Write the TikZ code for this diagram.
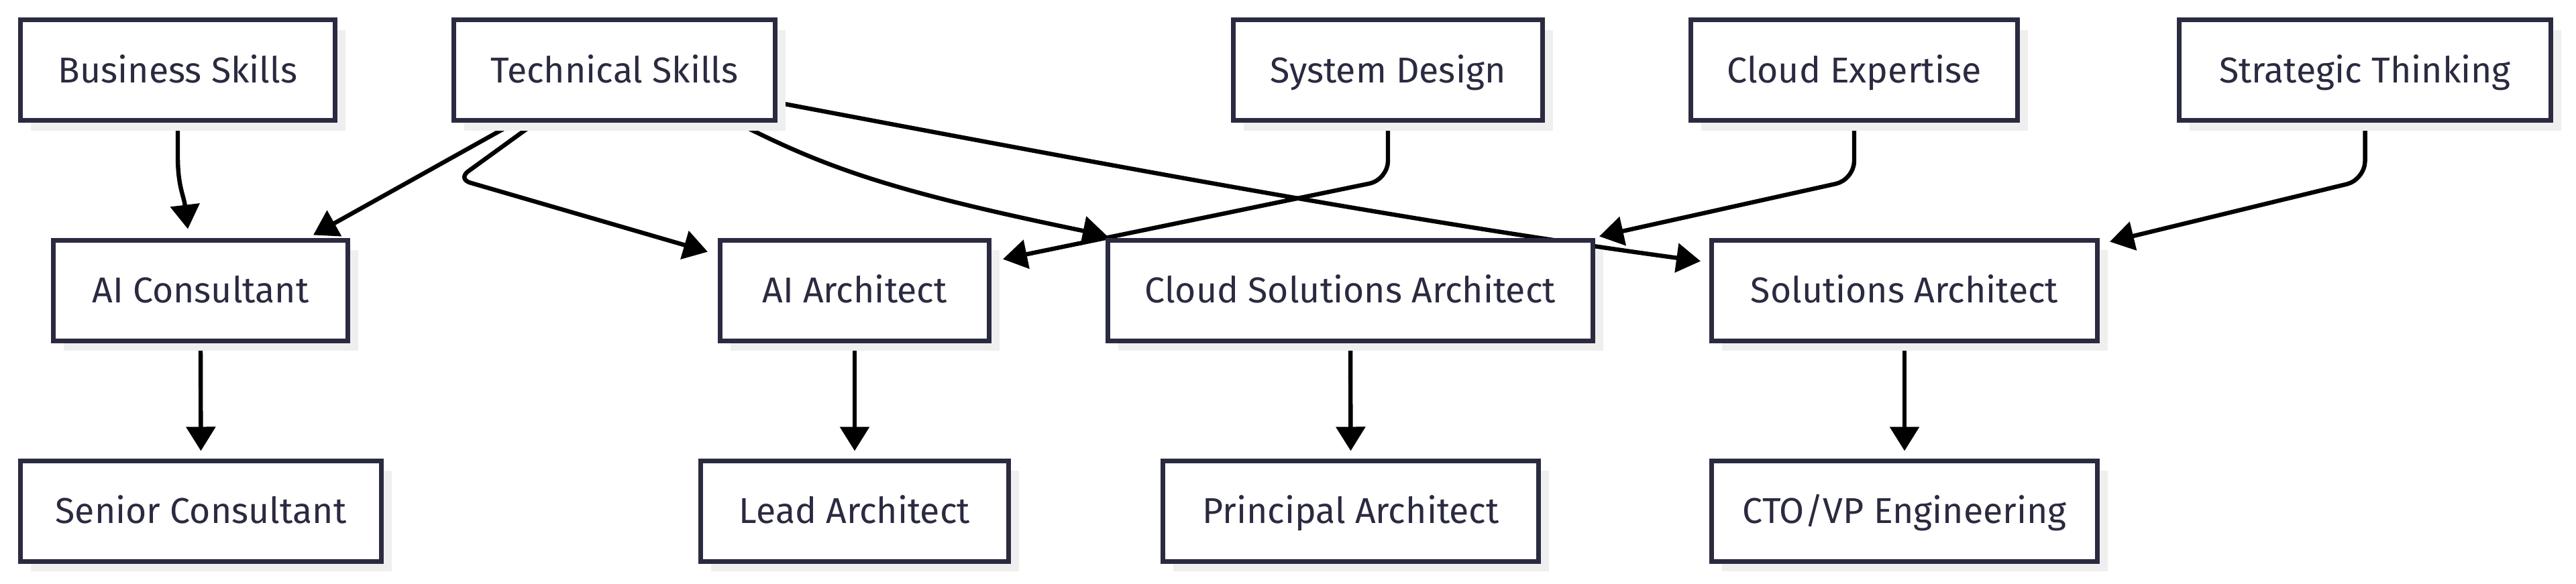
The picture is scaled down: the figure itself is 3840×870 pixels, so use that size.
\documentclass[tikz,border=0pt]{standalone}
\usepackage{fontspec}
\setmainfont{Fira Sans}
\usetikzlibrary{arrows.meta,calc,shadows}
\definecolor{boxline}{RGB}{42,42,64}
\definecolor{shade}{RGB}{239,239,239}
\pgfdeclarelayer{bg}
\pgfsetlayers{bg,main}
\begin{document}
\begin{tikzpicture}[x=0.25pt,y=-0.25pt,
  box/.style={draw=boxline, line width=1.75pt, fill=white, minimum height=37.5pt,
    inner sep=0pt, font=\fontsize{13.4}{16}\selectfont, text=boxline,
    text height=9.25pt, text depth=0pt,
    drop shadow={shadow xshift=3.75pt, shadow yshift=-3.75pt, fill=shade, opacity=1}},
  conn/.style={line width=1.6pt, draw=black, -{Triangle[length=9pt,width=10.75pt]}},
  elbow/.style={rounded corners=7pt}]
\useasboundingbox (0,0) rectangle (3840,870);
% top row
\node[box, minimum width=117.25pt] (bs)    at (265,104.5)  {Business Skills};
\node[box, minimum width=119.75pt] (tech)  at (916,104.5)  {Technical Skills};
\node[box, minimum width=115.25pt] (sysd)  at (2069,104.5) {System Design};
\node[box, minimum width=121.75pt] (cexp)  at (2764,104.5) {Cloud Expertise};
\node[box, minimum width=138.5pt]  (strat) at (3525.5,104.5) {Strategic Thinking};
% middle row
\node[box, minimum width=109.75pt] (aicons) at (299,433)  {AI Consultant};
\node[box, minimum width=100.25pt] (aiarch) at (1274,433) {AI Architect};
\node[box, minimum width=180.75pt] (csa)    at (2013,433) {Cloud Solutions Architect};
\node[box, minimum width=143.75pt] (sol)    at (2839,433) {Solutions Architect};
% bottom row
\node[box, minimum width=134.5pt]  (senior) at (299.5,762) {Senior Consultant};
\node[box, minimum width=114.75pt] (lead)   at (1274,762)  {Lead Architect};
\node[box, minimum width=140pt]    (princ)  at (2013.5,762) {Principal Architect};
\node[box, minimum width=143.75pt] (cto)    at (2839,762)  {CTO/VP Engineering};
\begin{pgfonlayer}{bg}
\draw[conn] (bs.south) -- ++(0,50) .. controls +(0,45) and +(-6,-50) .. ($(aicons.north)+(-19,-13)$);
\draw[conn] ($(tech.south)+(-149,0)$) -- ($(aicons.north east)+(-55,-4)$);
\draw[conn, rounded corners=5pt] ($(tech.south)+(-118,0)$) -- ($(tech.south)+(-234,84)$) -- ($(aiarch.north west)+(-15,21)$);
\draw[conn] ($(tech.south)+(183,0)$) .. controls +(131,67) and +(-320,-66) .. ($(csa.north west)+(2,-3)$);
\draw[conn] ($(tech.south east)+(0,-30)$) .. controls +(460,87) and +(-460,-63) .. ($(sol.north west)+(-13,35)$);
\draw[conn, elbow] (sysd.south) -- ++(0,85) -- ($(aiarch.north east)+(17,32)$);
\draw[conn, elbow] (cexp.south) -- ++(0,85) -- ($(csa.north east)+(6,-2)$);
\draw[conn, elbow] (strat.south) -- ++(0,85) -- ($(sol.north east)+(15,6)$);
\draw[conn, shorten >=2.75pt] (aicons.south) -- (senior.north);
\draw[conn, shorten >=2.75pt] (aiarch.south) -- (lead.north);
\draw[conn, shorten >=2.75pt] (csa.south) -- (princ.north);
\draw[conn, shorten >=2.75pt] (sol.south) -- (cto.north);
\end{pgfonlayer}
\end{tikzpicture}
\end{document}
